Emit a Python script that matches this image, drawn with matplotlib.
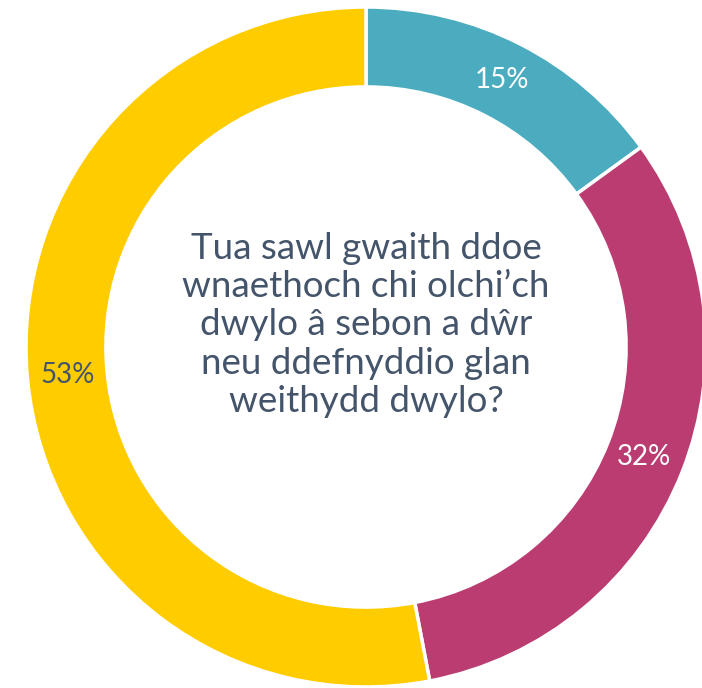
import matplotlib
matplotlib.use("Agg")
import matplotlib.pyplot as plt

plt.rcParams['font.family'] = ['Lato', 'DejaVu Sans']

shares = [15, 32, 53]
colors = ['#4BACC0', '#BA3C71', '#FFCC00']
label_colors = ['white', 'white', '#44546A']
question = ("Tua sawl gwaith ddoe\nwnaethoch chi olchi\u2019ch\n"
            "dwylo \u00e2 sebon a d\u0175r\nneu ddefnyddio glan\nweithydd dwylo?")

W, H = 702, 688
cx, cy, R = 366, 347, 340

fig = plt.figure(figsize=(W / 100, H / 100), dpi=100)
ax = fig.add_axes([0, 0, 1, 1])
wedges, texts, autotexts = ax.pie(
    shares, colors=colors, startangle=90, counterclock=False, radius=1,
    autopct=lambda p: '%.0f%%' % p, pctdistance=0.88,
    wedgeprops=dict(width=0.235, edgecolor='white', linewidth=2.5))
for t, c in zip(autotexts, label_colors):
    t.set_color(c)
    t.set_fontsize(20)

ax.text(0, 0.065, question, ha='center', va='center', fontsize=26.5,
        color='#44546A', linespacing=1.2)

ax.set_xlim(-cx / R, (W - cx) / R)
ax.set_ylim(-(H - cy) / R, cy / R)
ax.set_aspect('equal')
ax.axis('off')
fig.savefig('out.png', dpi=100, facecolor='white')
